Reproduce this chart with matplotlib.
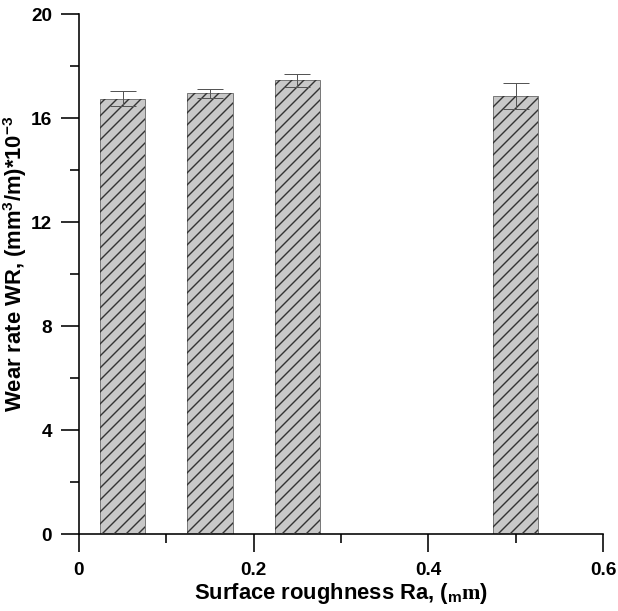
import matplotlib
matplotlib.use('Agg')
import matplotlib.pyplot as plt
from matplotlib.ticker import MultipleLocator

# data
roughness = [0.05, 0.15, 0.25, 0.50]
wear_rate = [16.75, 16.95, 17.45, 16.85]
wear_err = [0.28, 0.17, 0.24, 0.50]
x_ticks = [0, 0.2, 0.4, 0.6]
x_tick_labels = ['0', '0.2', '0.4', '0.6']
y_ticks = [0, 4, 8, 12, 16, 20]
y_tick_labels = ['0', '4', '8', '12', '16', '20']

plt.rcParams['font.family'] = ['Liberation Sans', 'DejaVu Sans']
plt.rcParams['font.weight'] = 'bold'
plt.rcParams['xtick.labelsize'] = 19
plt.rcParams['ytick.labelsize'] = 19
plt.rcParams['mathtext.fontset'] = 'custom'
plt.rcParams['mathtext.rm'] = 'Liberation Sans:bold'
plt.rcParams['mathtext.bf'] = 'Liberation Sans:bold'
plt.rcParams['mathtext.cal'] = 'Liberation Serif'
plt.rcParams['hatch.linewidth'] = 1.4

fig = plt.figure(figsize=(618 / 72, 611 / 72), dpi=72)
ax = fig.add_axes([0.1278, 0.126, 0.8479, 0.851])

# bars: fill + outline, then hatch on top
ax.bar(roughness, wear_rate, width=0.052, color='#c8c8c8',
       edgecolor='#7a7a7a', linewidth=1.0, zorder=2)
ax.bar(roughness, wear_rate, width=0.052, color='none',
       edgecolor='#333333', linewidth=0, hatch='//', zorder=3)
ax.errorbar(roughness, wear_rate, yerr=wear_err, fmt='none',
            ecolor='#555555', elinewidth=1.0, capsize=13, capthick=1.0, zorder=4)

ax.set_xlim(0, 0.6)
ax.set_ylim(0, 20)

for s in ['top', 'right']:
    ax.spines[s].set_visible(False)
for s in ['left', 'bottom']:
    ax.spines[s].set_linewidth(1.6)
    ax.spines[s].set_color('black')

ax.tick_params(which='major', direction='out', length=18, width=1.6, pad=9)
ax.tick_params(which='minor', direction='out', length=9, width=1.6)
ax.tick_params(axis='x', which='major', pad=10)

ax.set_xticks(x_ticks, x_tick_labels)
ax.set_yticks(y_ticks, y_tick_labels)
ax.xaxis.set_minor_locator(MultipleLocator(0.1))
ax.yaxis.set_minor_locator(MultipleLocator(2))
for lab in ax.get_xticklabels() + ax.get_yticklabels():
    lab.set_fontweight('bold')

ax.set_xlabel(r'Surface roughness Ra, ($_{\mathrm{m}}\mathcal{m}$)',
              fontsize=22, fontweight='bold', labelpad=2)
ax.set_ylabel(r'Wear rate WR, (mm$^{3}$/m)*10$^{-3}$',
              fontsize=22, fontweight='bold', labelpad=2)
ax.yaxis.set_label_coords(-0.095, 0.52)

fig.savefig('out.png', dpi=72)
